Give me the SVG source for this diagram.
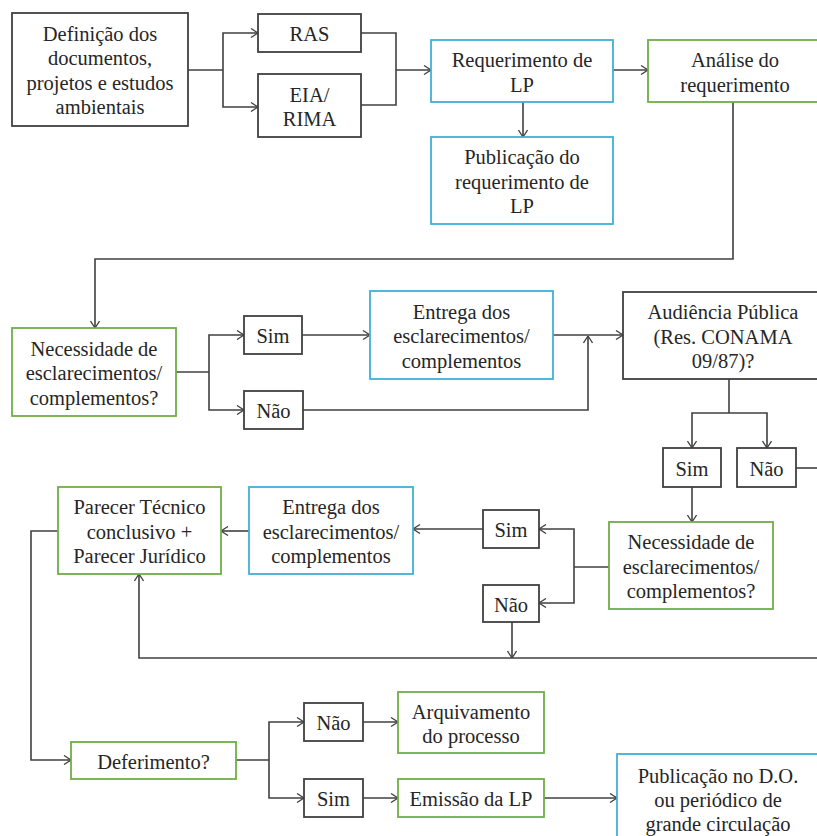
<svg xmlns="http://www.w3.org/2000/svg" width="817" height="836" viewBox="0 0 817 836">
<style>
.b{fill:#fff;stroke:#404040;stroke-width:1.8}
.g{fill:#fff;stroke:#70AD47;stroke-width:1.8}
.c{fill:#fff;stroke:#41B0D8;stroke-width:1.8}
text{font-size:20.5px;fill:#262626;text-anchor:middle}
.ln{fill:none;stroke:#404040;stroke-width:1.6}
</style>
<defs>
<marker id="ah" viewBox="0 0 10 10" refX="10" refY="5" markerWidth="10" markerHeight="10" markerUnits="userSpaceOnUse" orient="auto">
<path d="M3,0.5 L10,5 L3,9.5" fill="none" stroke="#404040" stroke-width="1.3"/>
</marker>
</defs>
<rect width="817" height="836" fill="#fff"/>
<g id="connectors" class="ln">
<path d="M188,70 H223"/>
<path d="M223,70 V33 H258" marker-end="url(#ah)"/>
<path d="M223,70 V107 H258" marker-end="url(#ah)"/>
<path d="M361,33 H396 V105 H361"/>
<path d="M396,70 H431" marker-end="url(#ah)"/>
<path d="M613,70 H648" marker-end="url(#ah)"/>
<path d="M523,102 V137" marker-end="url(#ah)"/>
<path d="M733,102 V259 H95 V328" marker-end="url(#ah)"/>
<path d="M176,372 H209"/>
<path d="M209,372 V335 H244" marker-end="url(#ah)"/>
<path d="M209,372 V410 H244" marker-end="url(#ah)"/>
<path d="M302,335 H370" marker-end="url(#ah)"/>
<path d="M553,335 H623" marker-end="url(#ah)"/>
<path d="M303,410 H588 V336" marker-end="url(#ah)"/>
<path d="M729,379 V413"/>
<path d="M729,413 H692 V448" marker-end="url(#ah)"/>
<path d="M729,413 H767 V448" marker-end="url(#ah)"/>
<path d="M796,468 H820"/>
<path d="M692,487 V522" marker-end="url(#ah)"/>
<path d="M609,567 H574"/>
<path d="M574,567 V529 H539" marker-end="url(#ah)"/>
<path d="M574,567 V603 H539" marker-end="url(#ah)"/>
<path d="M483,529 H413" marker-end="url(#ah)"/>
<path d="M249,531 H221" marker-end="url(#ah)"/>
<path d="M512,622 V658" marker-end="url(#ah)"/>
<path d="M820,658 H139 V574" marker-end="url(#ah)"/>
<path d="M58,531 H31 V760 H71" marker-end="url(#ah)"/>
<path d="M236,760 H269"/>
<path d="M269,760 V722 H304" marker-end="url(#ah)"/>
<path d="M269,760 V798 H304" marker-end="url(#ah)"/>
<path d="M363,722 H398" marker-end="url(#ah)"/>
<path d="M363,798 H398" marker-end="url(#ah)"/>
<path d="M544,798 H617" marker-end="url(#ah)"/>
</g>
<g id="nodes" font-family="Liberation Serif, Times New Roman, Noto Serif, DejaVu Serif, serif">
<g id="definicao"><rect class="b" x="12" y="13" width="176" height="113"/>
<text x="100" y="40.5">Definição dos</text><text x="100" y="65">documentos,</text><text x="100" y="89.5">projetos e estudos</text><text x="100" y="114">ambientais</text></g>
<g id="ras"><rect class="b" x="258" y="14" width="103" height="38"/><text x="309.5" y="41">RAS</text></g>
<g id="eia"><rect class="b" x="258" y="74" width="103" height="63"/><text x="309.5" y="101.5">EIA/</text><text x="309.5" y="126">RIMA</text></g>
<g id="requerimento"><rect class="c" x="431" y="40" width="182" height="62"/><text x="522" y="67">Requerimento de</text><text x="522" y="91.5">LP</text></g>
<g id="publicacao"><rect class="c" x="431" y="137" width="182" height="87"/><text x="522" y="164">Publicação do</text><text x="522" y="188.5">requerimento de</text><text x="522" y="213">LP</text></g>
<g id="analise"><rect class="g" x="648" y="40" width="174" height="62"/><text x="735" y="67">Análise do</text><text x="735" y="91.5">requerimento</text></g>
<g id="necessidade1"><rect class="g" x="12" y="328" width="164" height="88"/><text x="94" y="355.5">Necessidade de</text><text x="94" y="380">esclarecimentos/</text><text x="94" y="404.5">complementos?</text></g>
<g id="sim1"><rect class="b" x="244" y="316" width="58" height="38"/><text x="273" y="343">Sim</text></g>
<g id="nao1"><rect class="b" x="244" y="391" width="59" height="38"/><text x="273.5" y="418">Não</text></g>
<g id="entrega1"><rect class="c" x="370" y="291" width="183" height="88"/><text x="461.5" y="318.5">Entrega dos</text><text x="461.5" y="343">esclarecimentos/</text><text x="461.5" y="367.5">complementos</text></g>
<g id="audiencia"><rect class="b" x="623" y="292" width="200" height="87"/><text x="723" y="319">Audiência Pública</text><text x="723" y="343.5">(Res. CONAMA</text><text x="723" y="368">09/87)?</text></g>
<g id="sim2"><rect class="b" x="663" y="448" width="58" height="39"/><text x="692" y="475.5">Sim</text></g>
<g id="nao2"><rect class="b" x="737" y="448" width="59" height="39"/><text x="766.5" y="475.5">Não</text></g>
<g id="necessidade2"><rect class="g" x="609" y="522" width="164" height="87"/><text x="691" y="549">Necessidade de</text><text x="691" y="573.5">esclarecimentos/</text><text x="691" y="598">complementos?</text></g>
<g id="sim3"><rect class="b" x="483" y="510" width="56" height="38"/><text x="511" y="537">Sim</text></g>
<g id="nao3"><rect class="b" x="483" y="585" width="56" height="37"/><text x="511" y="611.5">Não</text></g>
<g id="entrega2"><rect class="c" x="249" y="487" width="164" height="87"/><text x="331" y="514">Entrega dos</text><text x="331" y="538.5">esclarecimentos/</text><text x="331" y="563">complementos</text></g>
<g id="parecer"><rect class="g" x="58" y="487" width="163" height="87"/><text x="139.5" y="514">Parecer Técnico</text><text x="139.5" y="538.5">conclusivo +</text><text x="139.5" y="563">Parecer Jurídico</text></g>
<g id="deferimento"><rect class="g" x="71" y="742" width="165" height="37"/><text x="153.5" y="768.5">Deferimento?</text></g>
<g id="nao4"><rect class="b" x="304" y="703" width="59" height="38"/><text x="333.5" y="730">Não</text></g>
<g id="sim4"><rect class="b" x="304" y="779" width="59" height="38"/><text x="333.5" y="806">Sim</text></g>
<g id="arquivamento"><rect class="g" x="398" y="692" width="146" height="61"/><text x="471" y="718.5">Arquivamento</text><text x="471" y="743">do processo</text></g>
<g id="emissao"><rect class="g" x="398" y="779" width="146" height="38"/><text x="471" y="806">Emissão da LP</text></g>
<g id="publicacao_do"><rect class="c" x="617" y="754" width="202" height="95"/><text x="718" y="783">Publicação no D.O.</text><text x="718" y="807">ou periódico de</text><text x="718" y="830.5">grande circulação</text></g>
</g>
</svg>
